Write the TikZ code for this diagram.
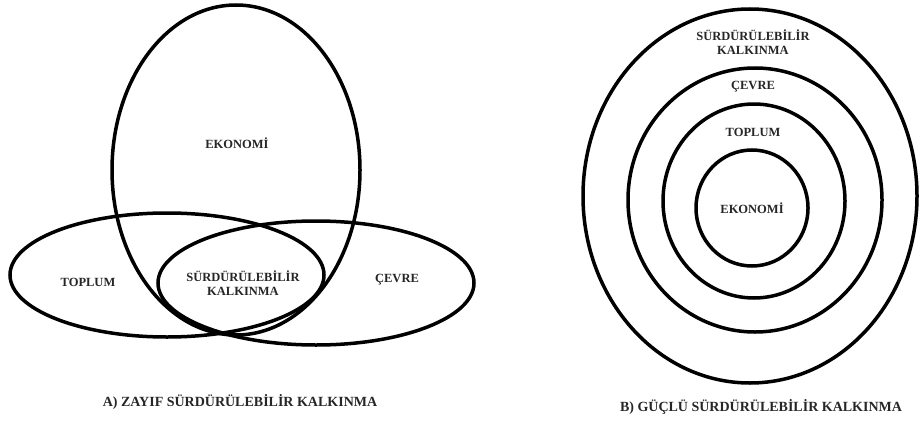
\documentclass[tikz,border=0pt]{standalone}
\usepackage{fontspec}
\setmainfont{Liberation Serif}
\usetikzlibrary{positioning}

\begin{document}
\begin{tikzpicture}[x=1pt,y=-1pt,
    ring/.style={line width=3.5pt},
    lbl/.style={font=\fontsize{12.5}{13.5}\selectfont\bfseries,align=center,text=black!85,inner sep=1pt},
    captxt/.style={font=\fontsize{14}{16}\selectfont\bfseries,text=black!85,inner sep=1pt}]
  \useasboundingbox (0,0) rectangle (920,420);
  % A) zayif
  \draw[ring] (236,170) ellipse [x radius=124,y radius=165];
  \draw[ring] (167,275) ellipse [x radius=157,y radius=62];
  \draw[ring] (316,283) ellipse [x radius=158,y radius=62];
  \node[lbl] (ekoA) at (237,143) {EKONOMİ};
  \node[lbl] (topA) at (88,282) {TOPLUM};
  \node[lbl] (cevA) at (397,280) {ÇEVRE};
  \node[lbl] (skA) at (243,283) {SÜRDÜRÜLEBİLİR\\KALKINMA};
  \node[captxt] (capA) at (240,402) {A) ZAYIF SÜRDÜRÜLEBİLİR KALKINMA};
  % B) guclu
  \draw[ring] (750,196) ellipse [x radius=167,y radius=187];
  \draw[ring] (755,200) ellipse [x radius=127,y radius=132];
  \draw[ring] (754,201) ellipse [x radius=91,y radius=97];
  \draw[ring] (752,208) ellipse [x radius=56,y radius=58];
  \node[lbl] (skB) at (753,42) {SÜRDÜRÜLEBİLİR\\KALKINMA};
  \node[lbl] (cevB) at (753,87) {ÇEVRE};
  \node[lbl] (topB) at (753,132) {TOPLUM};
  \node[lbl] (ekoB) at (752,208) {EKONOMİ};
  \node[captxt] (capB) at (761,407) {B) GÜÇLÜ SÜRDÜRÜLEBİLİR KALKINMA};
\end{tikzpicture}
\end{document}
